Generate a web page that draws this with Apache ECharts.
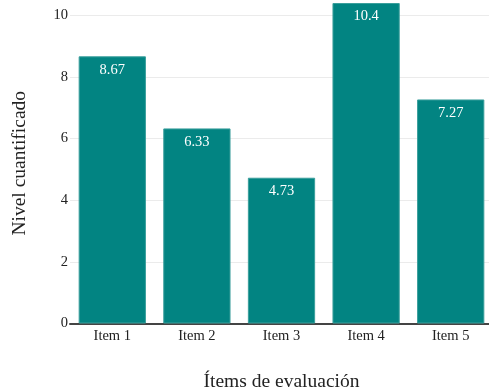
<!DOCTYPE html>
<html>
<head>
<meta charset="utf-8">
<script src="https://cdn.jsdelivr.net/npm/echarts@6/dist/echarts.min.js"></script>
<style>
html,body{margin:0;padding:0;background:#fff;}
#c{width:489px;height:391px;}
</style>
</head>
<body>
<div id="c"></div>
<script>
const categories = ['Item 1', 'Item 2', 'Item 3', 'Item 4', 'Item 5'];
const values = [8.67, 6.33, 4.73, 10.4, 7.27];
const yTitle = 'Nivel cuantificado';
const xTitle = 'Ítems de evaluación';

const font = '"Liberation Serif", "Times New Roman", serif';
const chart = echarts.init(document.getElementById('c'), null, {renderer: 'canvas'});
chart.setOption({
  animation: false,
  textStyle: {fontFamily: font},
  grid: {left: 70, right: -4, top: 3, bottom: 67.5, containLabel: false, outerBoundsMode: 'none'},
  xAxis: {
    type: 'category',
    data: categories,
    axisLine: {show: true, lineStyle: {color: '#444', width: 2}},
    axisTick: {show: false},
    axisLabel: {fontFamily: font, fontSize: 14.5, color: '#222', margin: 5},
    name: xTitle,
    nameLocation: 'middle',
    nameGap: 48,
    nameTextStyle: {fontFamily: font, fontSize: 19.5, color: '#222'}
  },
  yAxis: {
    type: 'value',
    min: 0,
    max: 10.4,
    interval: 2,
    axisLine: {show: false},
    axisTick: {show: false},
    axisLabel: {fontFamily: font, fontSize: 14.5, color: '#222', margin: 2, showMaxLabel: false},
    splitLine: {show: true, showMaxLine: false, lineStyle: {color: '#ebebeb', width: 1}},
    name: yTitle,
    nameLocation: 'middle',
    nameGap: 40,
    nameTextStyle: {fontFamily: font, fontSize: 19.5, color: '#222'}
  },
  series: [{
    type: 'bar',
    data: values,
    barCategoryGap: '20.5%',
    itemStyle: {color: '#028482', borderColor: '#3a9f9c', borderWidth: 1},
    label: {
      show: true,
      position: 'insideTop',
      distance: 6,
      color: '#fff',
      fontFamily: font,
      fontSize: 14.5
    }
  }]
});
</script>
</body>
</html>
